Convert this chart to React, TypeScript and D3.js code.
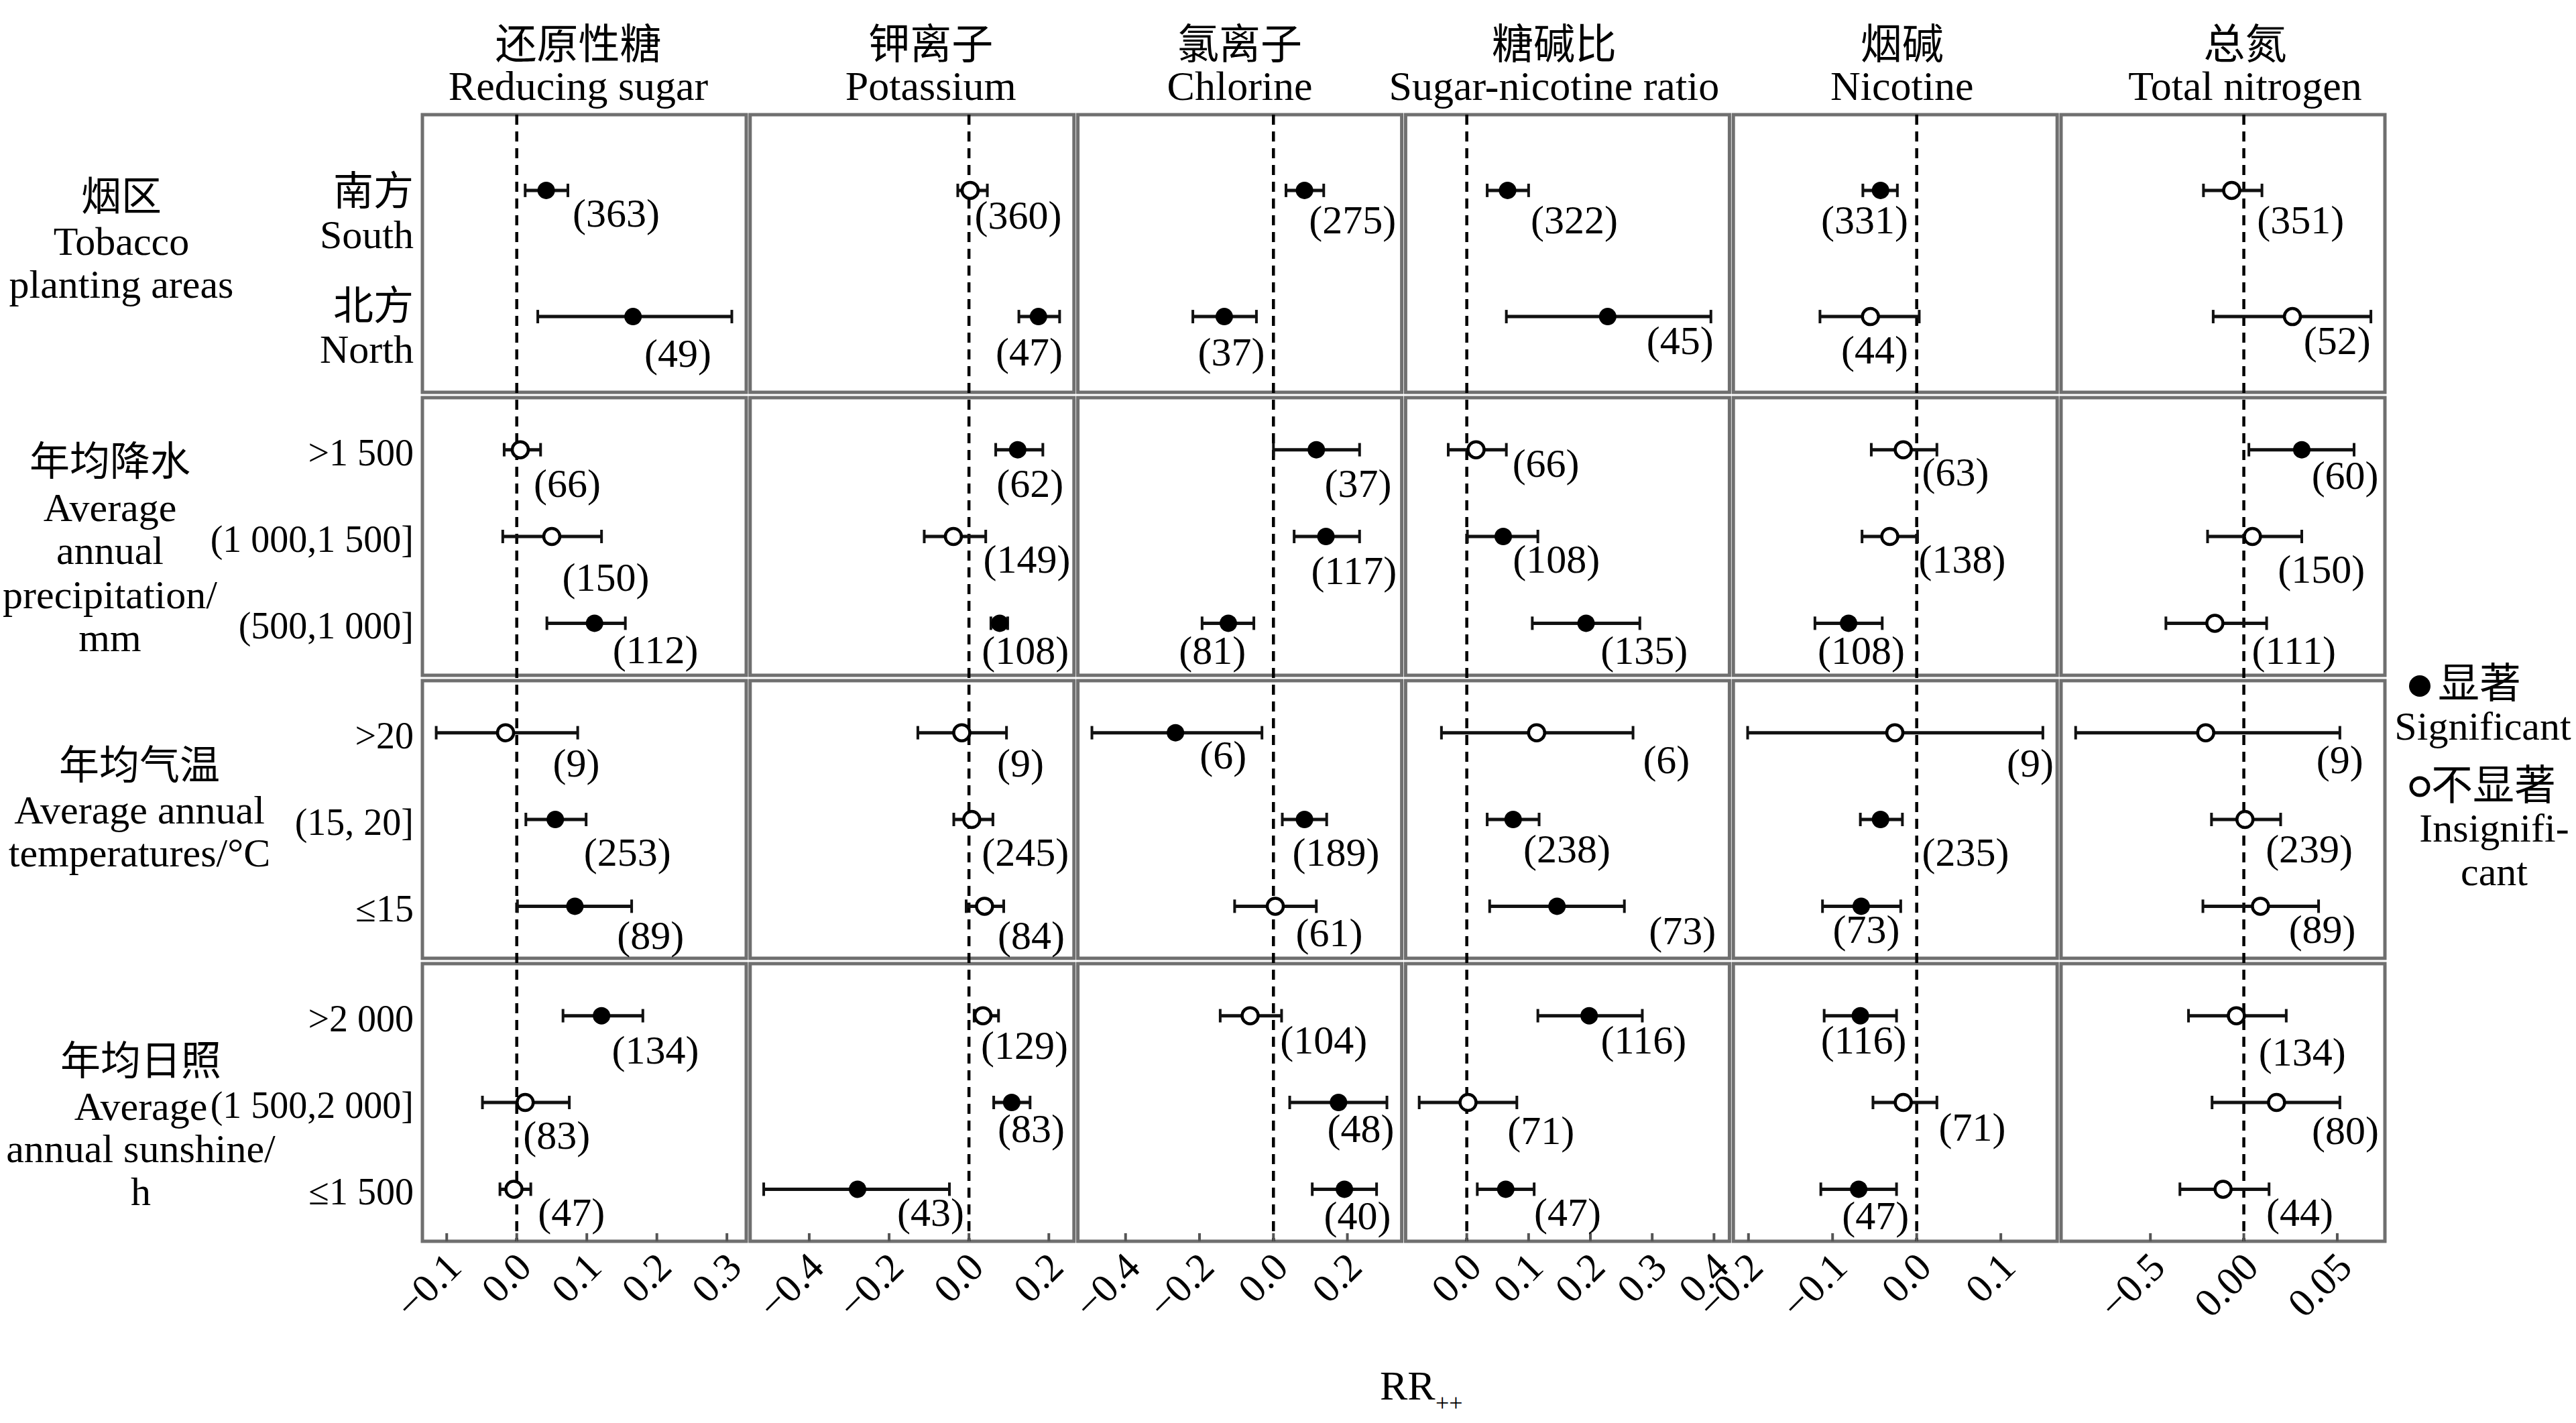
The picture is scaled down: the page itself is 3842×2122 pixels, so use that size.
import React from "react";
import * as d3 from "d3";

const W = 3842;
const H = 2122;

// ---------- column headings ----------
const columnCn = ["还原性糖", "钾离子", "氯离子", "糖碱比", "烟碱", "总氮"];
const columnEn = ["Reducing sugar", "Potassium", "Chlorine", "Sugar-nicotine ratio", "Nicotine", "Total nitrogen"];

// ---------- row groups ----------
const groupCn = ["烟区", "年均降水", "年均气温", "年均日照"];
const groupEn = [
  ["Tobacco", "planting areas"],
  ["Average", "annual", "precipitation/", "mm"],
  ["Average annual", "temperatures/°C"],
  ["Average", "annual sunshine/", "h"],
];
const areaCn = ["南方", "北方"];
const areaEn = ["South", "North"];
const precipCats = [">1 500", "(1 000,1 500]", "(500,1 000]"];
const tempCats = [">20", "(15, 20]", "≤15"];
const sunCats = [">2 000", "(1 500,2 000]", "≤1 500"];

// ---------- axes ----------
const rsDomain = [-0.1347, 0.3276];
const kDomain = [-0.548, 0.263];
const clDomain = [-0.529, 0.347];
const snrDomain = [-0.099, 0.425];
const nicDomain = [-0.218, 0.167];
const tnDomain = [-0.0978, 0.0755];

const rsTicks = [-0.1, 0, 0.1, 0.2, 0.3];
const rsTickLabels = ["−0.1", "0.0", "0.1", "0.2", "0.3"];
const kTicks = [-0.4, -0.2, 0, 0.2];
const kTickLabels = ["−0.4", "−0.2", "0.0", "0.2"];
const clTicks = [-0.4, -0.2, 0, 0.2];
const clTickLabels = ["−0.4", "−0.2", "0.0", "0.2"];
const snrTicks = [0, 0.1, 0.2, 0.3, 0.4];
const snrTickLabels = ["0.0", "0.1", "0.2", "0.3", "0.4"];
const nicTicks = [-0.2, -0.1, 0, 0.1];
const nicTickLabels = ["−0.2", "−0.1", "0.0", "0.1"];
const tnTicks = [-0.05, 0, 0.05];
const tnTickLabels = ["−0.5", "0.00", "0.05"];

// ---------- data (order: South, North, >1500, (1000,1500], (500,1000], >20, (15,20], <=15, >2000, (1500,2000], <=1500) ----------
const rsEst = [0.042, 0.166, 0.005, 0.050, 0.111, -0.016, 0.055, 0.083, 0.121, 0.012, -0.004];
const rsLo = [0.012, 0.030, -0.018, -0.020, 0.043, -0.115, 0.013, 0.001, 0.066, -0.049, -0.024];
const rsHi = [0.073, 0.307, 0.034, 0.121, 0.155, 0.087, 0.099, 0.164, 0.180, 0.075, 0.020];
const rsSig = [1, 1, 0, 0, 1, 0, 1, 1, 1, 0, 0];
const rsN = [363, 49, 66, 150, 112, 9, 253, 89, 134, 83, 47];
const rsLabelX = [0.142, 0.230, 0.072, 0.127, 0.198, 0.085, 0.158, 0.191, 0.198, 0.057, 0.078];

const kEst = [0.003, 0.174, 0.122, -0.039, 0.077, -0.018, 0.007, 0.039, 0.035, 0.107, -0.279];
const kLo = [-0.028, 0.125, 0.067, -0.112, 0.055, -0.128, -0.038, -0.007, 0.013, 0.062, -0.514];
const kHi = [0.046, 0.227, 0.185, 0.042, 0.097, 0.094, 0.060, 0.087, 0.074, 0.153, -0.049];
const kSig = [0, 1, 1, 0, 1, 0, 0, 0, 0, 1, 1];
const kN = [360, 47, 62, 149, 108, 9, 245, 84, 129, 83, 43];
const kLabelX = [0.123, 0.151, 0.153, 0.145, 0.141, 0.129, 0.141, 0.156, 0.139, 0.156, -0.096];

const clEst = [0.084, -0.133, 0.116, 0.142, -0.122, -0.265, 0.084, 0.005, -0.063, 0.176, 0.192];
const clLo = [0.034, -0.218, 0.000, 0.056, -0.193, -0.491, 0.024, -0.105, -0.144, 0.044, 0.105];
const clHi = [0.136, -0.046, 0.233, 0.233, -0.053, -0.031, 0.144, 0.116, 0.022, 0.307, 0.279];
const clSig = [1, 1, 1, 1, 1, 1, 1, 0, 0, 1, 1];
const clN = [275, 37, 37, 117, 81, 6, 189, 61, 104, 48, 40];
const clLabelX = [0.214, -0.114, 0.229, 0.218, -0.165, -0.136, 0.169, 0.151, 0.136, 0.236, 0.227];

const snrEst = [0.066, 0.228, 0.015, 0.059, 0.193, 0.113, 0.075, 0.146, 0.198, 0.002, 0.063];
const snrLo = [0.033, 0.064, -0.030, 0.001, 0.106, -0.041, 0.033, 0.037, 0.115, -0.077, 0.017];
const snrHi = [0.100, 0.395, 0.064, 0.115, 0.280, 0.269, 0.117, 0.255, 0.284, 0.081, 0.109];
const snrSig = [1, 1, 0, 1, 1, 0, 1, 1, 1, 0, 1];
const snrN = [322, 45, 66, 108, 135, 6, 238, 73, 116, 71, 47];
const snrLabelX = [0.174, 0.345, 0.128, 0.145, 0.287, 0.323, 0.162, 0.349, 0.286, 0.120, 0.163];

const nicEst = [-0.043, -0.055, -0.016, -0.032, -0.081, -0.026, -0.043, -0.066, -0.067, -0.016, -0.069];
const nicLo = [-0.064, -0.115, -0.054, -0.065, -0.121, -0.201, -0.067, -0.112, -0.110, -0.052, -0.114];
const nicHi = [-0.023, 0.003, 0.024, 0.001, -0.041, 0.150, -0.017, -0.019, -0.024, 0.024, -0.024];
const nicSig = [1, 0, 0, 0, 1, 0, 1, 1, 1, 0, 1];
const nicN = [331, 44, 63, 138, 108, 9, 235, 73, 116, 71, 47];
const nicLabelX = [-0.062, -0.050, 0.046, 0.054, -0.066, 0.135, 0.058, -0.060, -0.063, 0.066, -0.049];

const tnEst = [-0.0065, 0.026, 0.031, 0.0046, -0.0155, -0.0204, 0.0006, 0.0089, -0.004, 0.0175, -0.0111];
const tnLo = [-0.0216, -0.0164, 0.0027, -0.0194, -0.0417, -0.090, -0.0173, -0.0219, -0.0296, -0.017, -0.0342];
const tnHi = [0.0097, 0.068, 0.059, 0.031, 0.0122, 0.0514, 0.0197, 0.040, 0.0227, 0.0514, 0.0135];
const tnSig = [0, 0, 1, 0, 0, 0, 0, 0, 0, 0, 0];
const tnN = [351, 52, 60, 150, 111, 9, 239, 89, 134, 80, 44];
const tnLabelX = [0.0304, 0.0499, 0.0542, 0.0415, 0.0268, 0.0514, 0.035, 0.042, 0.0313, 0.0543, 0.0299];

// ---------- layout (not data) ----------
const FONT = "'Liberation Serif','Times New Roman','Noto Sans CJK SC',serif";
const FS = 60;
const CAT_FS = 56;
const PANEL_LEFT = 630;
const PANEL_PITCH = 488.8;
const PANEL_W = 483;
const ROW_TOP = 171;
const ROW_PITCH = 422;
const ROW_H = 414;
const titleShift = [-9, 28, 0, -20, 10, 33];
// vertical offsets of the count labels below each point (px, at 1/2.45 scale)
const rsDy = [14, 22.5, 20.5, 25, 16, 18.5, 20, 18, 21, 20, 14];
const kDy = [15, 21.5, 20.5, 14, 16.5, 18.5, 20, 18, 18, 16, 14];
const clDy = [18, 21.5, 20.5, 21, 16.5, 13.5, 20, 16, 15, 16, 16];
const snrDy = [18, 14.5, 8.5, 14, 16.5, 16.5, 18, 15, 15, 17, 14];
const nicDy = [18, 20.5, 13.5, 14, 16.5, 18.5, 20, 14, 15, 15, 16];
const tnDy = [18, 14.5, 15.5, 20, 16.5, 16.5, 18, 14, 22, 17, 14];

const columns = [
  { domain: rsDomain, ticks: rsTicks, tickLabels: rsTickLabels, est: rsEst, lo: rsLo, hi: rsHi, sig: rsSig, n: rsN, lx: rsLabelX, dy: rsDy },
  { domain: kDomain, ticks: kTicks, tickLabels: kTickLabels, est: kEst, lo: kLo, hi: kHi, sig: kSig, n: kN, lx: kLabelX, dy: kDy },
  { domain: clDomain, ticks: clTicks, tickLabels: clTickLabels, est: clEst, lo: clLo, hi: clHi, sig: clSig, n: clN, lx: clLabelX, dy: clDy },
  { domain: snrDomain, ticks: snrTicks, tickLabels: snrTickLabels, est: snrEst, lo: snrLo, hi: snrHi, sig: snrSig, n: snrN, lx: snrLabelX, dy: snrDy },
  { domain: nicDomain, ticks: nicTicks, tickLabels: nicTickLabels, est: nicEst, lo: nicLo, hi: nicHi, sig: nicSig, n: nicN, lx: nicLabelX, dy: nicDy },
  { domain: tnDomain, ticks: tnTicks, tickLabels: tnTickLabels, est: tnEst, lo: tnLo, hi: tnHi, sig: tnSig, n: tnN, lx: tnLabelX, dy: tnDy },
];

const rowCats = [areaEn, precipCats, tempCats, sunCats];
// index of first data entry in each row
const rowStart = [0, 2, 5, 8];

const groupLayout = [
  { cx: 181, ys: [294, 360, 424] },
  { cx: 164, ys: [689, 757, 821, 887, 951] },
  { cx: 208, ys: [1142, 1208, 1272] },
  { cx: 210, ys: [1583, 1650, 1713, 1777] },
];

export default function App() {
  const bottom = ROW_TOP + 3 * ROW_PITCH + ROW_H;
  const yScales = rowCats.map((cats, j) =>
    d3
      .scalePoint<number>()
      .domain(cats.map((_, k) => k))
      .range([ROW_TOP + j * ROW_PITCH, ROW_TOP + j * ROW_PITCH + ROW_H])
      .padding(0.6)
  );

  return (
    <svg
      width={W}
      height={H}
      viewBox={`0 0 ${W} ${H}`}
      style={{ position: "absolute", left: 0, top: 0, display: "block", background: "#fff" }}
      fontFamily={FONT}
    >
      <rect x={0} y={0} width={W} height={H} fill="#fff" />

      {/* group labels */}
      {groupCn.map((g, j) => {
        const L = groupLayout[j];
        const lines = [g, ...groupEn[j]];
        return lines.map((t, k) => (
          <text key={`g${j}-${k}`} x={L.cx} y={L.ys[k]} fontSize={FS} textAnchor="middle" dominantBaseline="central">
            {t}
          </text>
        ));
      })}

      {/* category labels */}
      {rowCats.map((cats, j) =>
        cats.map((c, k) => {
          const y = yScales[j](k) as number;
          if (j === 0) {
            const shift = k === 0 ? 2 : -15;
            return (
              <g key={`c${j}-${k}`}>
                <text x={617} y={y + shift} fontSize={FS} textAnchor="end" dominantBaseline="central">
                  {areaCn[k]}
                </text>
                <text x={617} y={y + shift + 64} fontSize={FS} textAnchor="end" dominantBaseline="central">
                  {c}
                </text>
              </g>
            );
          }
          return (
            <text key={`c${j}-${k}`} x={617} y={y + 4} fontSize={CAT_FS} textAnchor="end" dominantBaseline="central">
              {c}
            </text>
          );
        })
      )}

      {columns.map((col, i) => {
        const left = PANEL_LEFT + i * PANEL_PITCH;
        const x = d3.scaleLinear().domain(col.domain).range([left, left + PANEL_W]);
        const cx = left + PANEL_W / 2 + titleShift[i];
        return (
          <g key={`col${i}`}>
            <text x={cx} y={88} fontSize={62} textAnchor="middle">
              {columnCn[i]}
            </text>
            <text x={cx} y={149} fontSize={62} textAnchor="middle">
              {columnEn[i]}
            </text>
            {rowCats.map((_, j) => (
              <rect
                key={`p${j}`}
                x={left}
                y={ROW_TOP + j * ROW_PITCH}
                width={PANEL_W}
                height={ROW_H}
                fill="none"
                stroke="#6f6f6f"
                strokeWidth={5}
              />
            ))}
            <line
              x1={x(0)}
              x2={x(0)}
              y1={ROW_TOP}
              y2={bottom}
              stroke="#000"
              strokeWidth={4.5}
              strokeDasharray="15,10"
            />
            {col.ticks.map((t, k) => (
              <g key={`t${k}`}>
                <line x1={x(t)} x2={x(t)} y1={bottom} y2={bottom - 12} stroke="#555" strokeWidth={4} />
                <text
                  transform={`translate(${x(t) + 25},${bottom + 42}) rotate(-45)`}
                  fontSize={FS}
                  textAnchor="end"
                >
                  {col.tickLabels[k]}
                </text>
              </g>
            ))}
            {rowCats.map((cats, j) =>
              cats.map((_, k) => {
                const idx = rowStart[j] + k;
                const y = yScales[j](k) as number;
                const lo = x(col.lo[idx]);
                const hi = x(col.hi[idx]);
                const e = x(col.est[idx]);
                const sig = col.sig[idx] === 1;
                return (
                  <g key={`d${j}-${k}`}>
                    <line x1={lo} x2={hi} y1={y} y2={y} stroke="#111" strokeWidth={5} />
                    <line x1={lo} x2={lo} y1={y - 10} y2={y + 10} stroke="#111" strokeWidth={4} />
                    <line x1={hi} x2={hi} y1={y - 10} y2={y + 10} stroke="#111" strokeWidth={4} />
                    {sig ? (
                      <circle cx={e} cy={y} r={13} fill="#000" />
                    ) : (
                      <circle cx={e} cy={y} r={12} fill="#fff" stroke="#000" strokeWidth={4.5} />
                    )}
                    <text
                      x={x(col.lx[idx])}
                      y={y + col.dy[idx] * 2.45}
                      fontSize={FS}
                      textAnchor="middle"
                      dominantBaseline="central"
                    >
                      {`(${col.n[idx]})`}
                    </text>
                  </g>
                );
              })
            )}
          </g>
        );
      })}

      {/* axis title */}
      <text x={2058} y={2087} fontSize={62}>
        RR
      </text>
      <text x={2141} y={2104} fontSize={36}>
        ++
      </text>

      {/* legend */}
      <circle cx={3609} cy={1023} r={16} fill="#000" />
      <text x={3636} y={1020} fontSize={62} dominantBaseline="central">
        显著
      </text>
      <text x={3703} y={1103} fontSize={FS} textAnchor="middle">
        Significant
      </text>
      <circle cx={3609} cy={1173} r={13} fill="#fff" stroke="#000" strokeWidth={5} />
      <text x={3626} y={1172} fontSize={62} dominantBaseline="central">
        不显著
      </text>
      <text x={3720} y={1255} fontSize={FS} textAnchor="middle">
        Insignifi-
      </text>
      <text x={3720} y={1320} fontSize={FS} textAnchor="middle">
        cant
      </text>
    </svg>
  );
}
